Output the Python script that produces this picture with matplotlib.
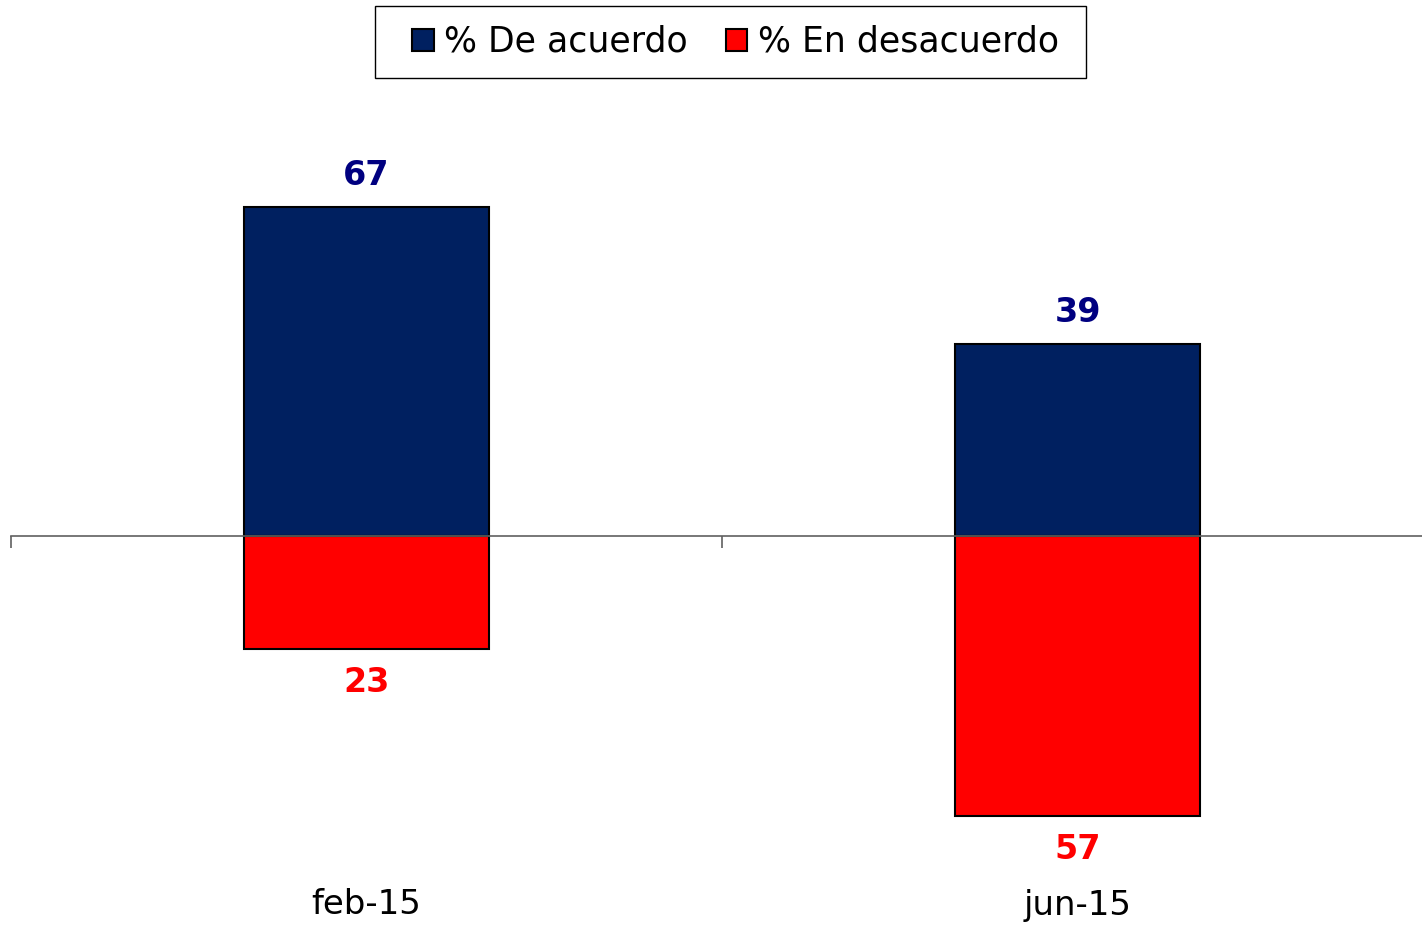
import matplotlib.pyplot as plt
from matplotlib.patches import Patch, Rectangle
import matplotlib.transforms as mtransforms

periodos = ['feb-15', 'jun-15']
de_acuerdo = [67, 39]
en_desacuerdo = [23, 57]

azul = '#002060'
rojo = '#ff0000'

W, H = 1422, 926
fig = plt.figure(figsize=(W / 100, H / 100), dpi=100)
ax = fig.add_axes([11 / W, 1 - 900 / H, 1422 / W, 750 / H])

x = list(range(len(periodos)))
ancho = 0.345
ax.bar(x, de_acuerdo, width=ancho, color=azul, edgecolor='black', linewidth=1.5)
ax.bar(x, [-v for v in en_desacuerdo], width=ancho, color=rojo, edgecolor='black', linewidth=1.5)

for xi, v in zip(x, de_acuerdo):
    ax.annotate(str(v), (xi, v), xytext=(0, 23), textcoords='offset points',
                ha='center', va='center', fontsize=24, fontweight='bold', color='#000080')
for xi, v in zip(x, en_desacuerdo):
    ax.annotate(str(v), (xi, -v), xytext=(0, -24.5), textcoords='offset points',
                ha='center', va='center', fontsize=24, fontweight='bold', color=rojo)

# etiquetas de categoria abajo
trans = mtransforms.blended_transform_factory(ax.transData, fig.transFigure)
for xi, p in zip(x, periodos):
    ax.text(xi, 1 - 905 / H, p, transform=trans, ha='center', va='center', fontsize=24.5)

ax.set_xlim(-0.5, 1.5)
ax.set_ylim(-74.13, 78.61)
for s in ['top', 'right', 'left']:
    ax.spines[s].set_visible(False)
ax.spines['bottom'].set_position(('data', 0))
ax.spines['bottom'].set_color('#606060')
ax.spines['bottom'].set_linewidth(1.2)
ax.set_xticks([-0.5, 0.5, 1.5])
ax.set_xticklabels([])
ax.tick_params(axis='x', length=8.6, width=1.2, color='#606060', direction='out')
ax.set_yticks([])

# leyenda con marco propio
fig.patches.append(Rectangle((375 / W, 1 - 78 / H), 711 / W, 72 / H, transform=fig.transFigure,
                             facecolor='none', edgecolor='black', linewidth=1.0))
handles = [Patch(facecolor=azul, edgecolor='black', linewidth=1.5, label='% De acuerdo'),
           Patch(facecolor=rojo, edgecolor='black', linewidth=1.5, label='% En desacuerdo')]
leg = fig.legend(handles=handles, loc='center left', bbox_to_anchor=(412 / W, 1 - 42 / H),
                 ncol=2, fontsize=25, frameon=False,
                 handlelength=0.62, handleheight=0.62, handletextpad=0.3, columnspacing=1.1,
                 borderpad=0, borderaxespad=0)

fig.savefig('out.png', dpi=100)
